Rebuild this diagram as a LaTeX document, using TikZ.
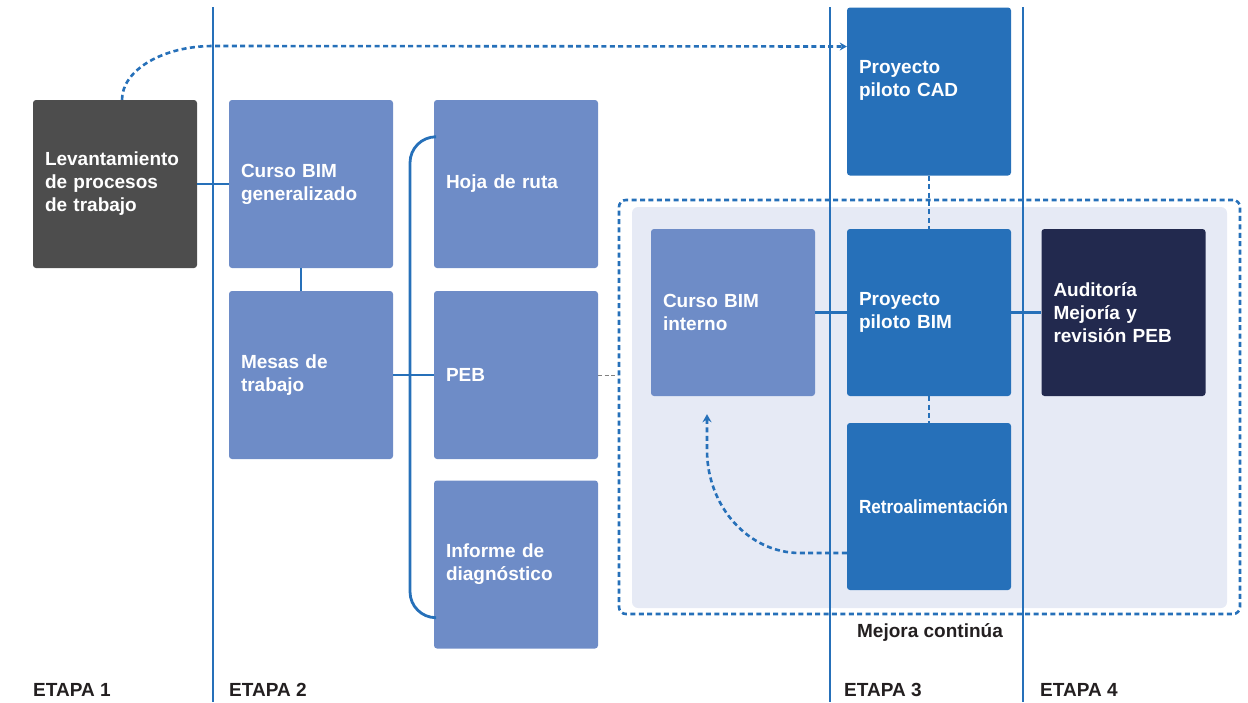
\documentclass[tikz,border=0pt]{standalone}
\usepackage{fontspec}
\setmainfont{Liberation Sans}
\usetikzlibrary{calc,arrows.meta}

\definecolor{levgray}{HTML}{4D4D4D}
\definecolor{softblue}{HTML}{6E8CC7}
\definecolor{midblue}{HTML}{2670B9}
\definecolor{navyblue}{HTML}{22294E}
\definecolor{bgblue}{HTML}{E6EAF5}
\definecolor{textdark}{HTML}{231F20}

\tikzset{
  box/.style={minimum width=164pt, minimum height=168pt, text width=140pt,
    inner sep=12pt, align=left, rounded corners=3pt, text=white,
    font=\bfseries\fontsize{19}{23}\selectfont},
  link/.style={draw=midblue, line width=2.8pt},
  dotlink/.style={draw=midblue, line width=2.6pt, dash pattern=on 5pt off 3.4pt},
  stageline/.style={draw=midblue, line width=2.8pt},
  stagelabel/.style={anchor=base west, inner sep=0pt, text=textdark, font=\bfseries\fontsize{19}{23}\selectfont},
}

\begin{document}
\begin{tikzpicture}[x=1pt, y=-1pt]
  \useasboundingbox (0,0) rectangle (1248,702);

  % Mejora continua area
  \node[fill=bgblue, rounded corners=6pt, minimum width=595pt, minimum height=401pt, inner sep=0pt] (fondo) at (929.5,407.5) {};
  \node[dotlink, rounded corners=7pt, minimum width=621pt, minimum height=414pt, inner sep=0pt] (mejora) at (929.5,407) {};
  \node[text=textdark, font=\bfseries\fontsize{19}{23}\selectfont] (mejoratxt) at (930,632) {Mejora continúa};

  % Stage lines
  \draw[stageline] (213,7) -- (213,702);
  \draw[stageline] (830,7) -- (830,702);
  \draw[stageline] (1023,7) -- (1023,702);

  % Nodes
  % Etapa 1
  \node[box, fill=levgray] (lev) at (115,184) {Levantamiento\\de procesos\\de trabajo};

  % Etapa 2
  \node[box, fill=softblue] (gen) at (311,184) {Curso BIM\\generalizado};
  \node[box, fill=softblue] (mesas) at (311,375) {Mesas de\\trabajo};
  \node[box, fill=softblue] (hoja) at (516,184) {Hoja de ruta};
  \node[box, fill=softblue] (peb) at (516,375) {PEB};
  \node[box, fill=softblue] (inf) at (516,564.5) {Informe de\\diagnóstico};

  % Etapa 3
  \node[box, fill=softblue, minimum height=167pt] (interno) at (733,312.5) {Curso BIM\\interno};
  \node[box, fill=midblue] (cad) at (929,91.5) {Proyecto\\piloto CAD\\[4pt]\mbox{}};
  \node[box, fill=midblue, minimum height=167pt] (bim) at (929,312.5) {Proyecto\\piloto BIM};
  \node[box, fill=midblue, minimum height=167pt] (retro) at (929,506.5) {\scalebox{0.9}[1]{Retroalimentación}};

  % Etapa 4
  \node[box, fill=navyblue, minimum height=167pt] (aud) at (1123.5,312.5) {Auditoría\\Mejoría y\\revisión PEB};

  % Labels
  \node[stagelabel] (etapa1) at (33,696) {ETAPA 1};
  \node[stagelabel] (etapa2) at (229,696) {ETAPA 2};
  \node[stagelabel] (etapa3) at (844,696) {ETAPA 3};
  \node[stagelabel] (etapa4) at (1040,696) {ETAPA 4};

  % Arrows
  \draw[link] (lev) -- (gen);
  \draw[link] ([xshift=-10pt]gen.south) -- ([xshift=-10pt]mesas.north);
  \draw[link] (mesas) -- (peb);
  \draw[link, rounded corners=26pt] ([yshift=-37pt]hoja.north west) -| (410,400) |- ([yshift=31pt]inf.south west);

  \draw[gray, line width=1pt, dash pattern=on 4pt off 2.5pt] (peb.east) -- (peb.east -| mejora.west);

  \draw[link] (interno) -- (bim);
  \draw[link] (bim) -- (aud);
  \draw[dotlink] (cad) -- (bim);
  \draw[dotlink] (bim) -- (retro);

  \draw[dotlink, -{Stealth[length=7pt,width=8pt]}] ([xshift=7pt]lev.north)
    .. controls (122,70) and (163,46) .. (213,46) -- ([yshift=45pt]cad.west);
  \draw[dotlink, -{Stealth[length=8pt,width=9pt]}] ([yshift=-46.5pt]retro.west) -- (800,553)
    .. controls (749,553) and (707,507) .. (707,450) -- ([xshift=-26pt,yshift=-18pt]interno.south);

\end{tikzpicture}
\end{document}
